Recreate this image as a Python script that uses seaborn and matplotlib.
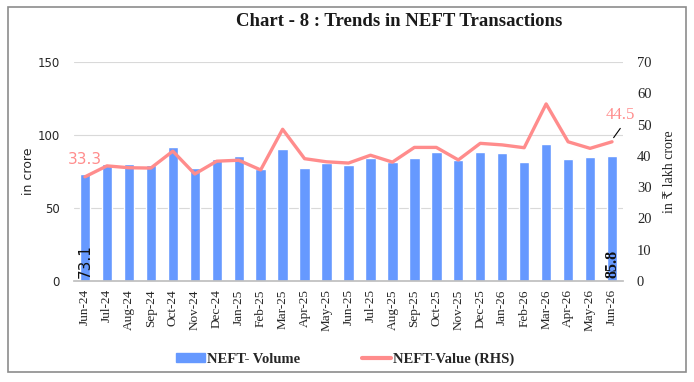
import matplotlib
matplotlib.use("Agg")
import matplotlib.pyplot as plt
import seaborn as sns
import pandas as pd
import numpy as np
from matplotlib.patches import Rectangle, Patch
from matplotlib.lines import Line2D

months = ["Jun-24", "Jul-24", "Aug-24", "Sep-24", "Oct-24", "Nov-24", "Dec-24",
          "Jan-25", "Feb-25", "Mar-25", "Apr-25", "May-25", "Jun-25", "Jul-25",
          "Aug-25", "Sep-25", "Oct-25", "Nov-25", "Dec-25", "Jan-26", "Feb-26",
          "Mar-26", "Apr-26", "May-26", "Jun-26"]
volume = [73.1, 80.1, 80.0, 79.2, 92.0, 77.6, 83.3, 85.8, 76.7, 90.2, 77.2, 81.0,
          79.5, 84.5, 81.7, 84.5, 88.1, 82.9, 88.1, 87.4, 81.5, 94.0, 83.6, 85.2, 85.8]
value = [33.3, 36.8, 36.2, 36.1, 41.5, 34.2, 38.3, 38.6, 35.5, 48.5, 39.1, 38.1,
         37.7, 40.2, 38.0, 42.7, 42.7, 38.7, 44.0, 43.5, 42.6, 56.6, 44.5, 42.4, 44.5]
left_ticks = [0, 50, 100, 150]
right_ticks = [0, 10, 20, 30, 40, 50, 60, 70]

df = pd.DataFrame({"month": months, "volume": volume, "value": value,
                   "pos": np.arange(len(months))})

sns.set_theme(style="white")
plt.rcParams['font.family'] = ['DejaVu Sans']

BAR = "#6699FF"
LINE = "#FF8C8C"
SERIF = ['Liberation Serif', 'DejaVu Serif']

fig = plt.figure(figsize=(6.94, 3.82), dpi=100)
ax = fig.add_axes([74/694, 1-281/382, (623-74)/694, (281-62)/382])

sns.barplot(data=df, x="month", y="volume", color=BAR, width=0.47,
            saturation=1, ax=ax, legend=False)
ax.set_ylim(0, 150)
ax.set_xlim(-0.5, len(months)-0.5)
ax.set_yticks(left_ticks)
ax.yaxis.grid(True, color="#D9D9D9", linewidth=0.8)
ax.set_axisbelow(True)
ax.set_xlabel("")
ax.set_ylabel("in crore", fontsize=9, labelpad=2)
ax.tick_params(axis="y", labelsize=8.5, length=0, pad=10)
ax.set_xticks(np.arange(len(months)))
ax.set_xticklabels(months, rotation=90, fontfamily=SERIF, fontsize=9.5)
ax.tick_params(axis="x", which="major", length=0, pad=6)
ax.set_xticks(np.arange(-0.5, len(months), 1.0), minor=True)
ax.tick_params(axis="x", which="minor", length=5, color="#BFBFBF", width=0.8)
for s in ["top", "left", "right"]:
    ax.spines[s].set_visible(False)
ax.spines["bottom"].set_color("#BFBFBF")

ax2 = ax.twinx()
sns.lineplot(data=df, x="pos", y="value", color=LINE, linewidth=2.4, ax=ax2)
ax2.set_ylim(0, 70)
ax2.set_yticks(right_ticks)
ax2.set_yticklabels([str(t) for t in right_ticks], fontfamily=SERIF, fontsize=10.5)
ax2.tick_params(axis="y", length=0, pad=10)
ax2.set_ylabel("in ₹ lakh crore", fontsize=10, family=SERIF, labelpad=8)
ax2.set_xlabel("")
for s in ["top", "left", "right", "bottom"]:
    ax2.spines[s].set_visible(False)
ax2.grid(False)

# data labels
ax.text(0, 2, f"{volume[0]:.1f}", rotation=90, ha="center", va="bottom",
        fontsize=11, color="#111111")
ax.text(len(months)-1, 2, f"{volume[-1]:.1f}", rotation=90, ha="center", va="bottom",
        fontsize=11.5, fontweight="bold", family=SERIF, color="#111111")
ax2.text(0, value[0] + 5.5, f"{value[0]:.1f}", ha="center", va="center",
         fontsize=11, color=LINE)
ax2.text(len(months)-1 - 0.3, value[-1] + 8.5, f"{value[-1]:.1f}", ha="left", va="center",
         fontsize=12, color=LINE, family=SERIF)
ax2.annotate("", xy=(len(months)-1, value[-1] + 0.6),
             xytext=(len(months)-1 + 0.45, value[-1] + 5),
             arrowprops=dict(arrowstyle="-", color="black", lw=0.8))

fig.text(399/694, 1-22/382, "Chart - 8 : Trends in NEFT Transactions", ha="center",
         va="center", fontsize=13.5, fontweight="bold", family=SERIF, color="#1a1a1a")

# legend
h1 = Patch(facecolor=BAR, edgecolor=BAR)
h2 = Line2D([0], [0], color=LINE, linewidth=3)
fig.legend([h1, h2], ["NEFT- Volume", "NEFT-Value (RHS)"], loc="center",
           bbox_to_anchor=(345/694, 1-359/382), ncol=2, frameon=False,
           prop={"family": SERIF, "weight": "bold", "size": 10.5},
           handlelength=2.0, handleheight=0.5, handletextpad=0.15, columnspacing=4.2)

fig.patches.append(Rectangle((8/694, 1-372/382), 678/694, 365/382,
                             transform=fig.transFigure, fill=False,
                             edgecolor="#8C8C8C", linewidth=1.2))

fig.savefig("out.png", dpi=100, facecolor="white")
